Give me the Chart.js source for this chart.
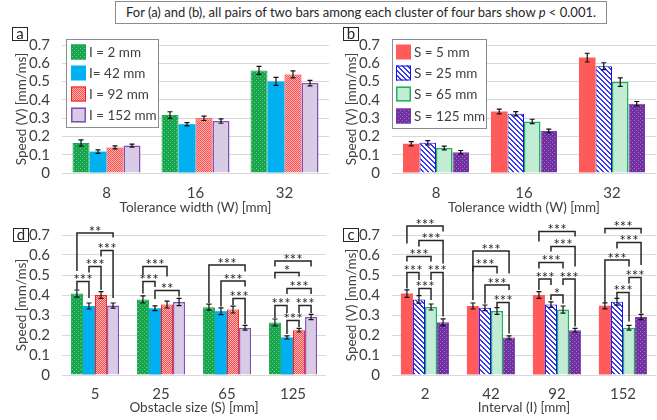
<!DOCTYPE html>
<html><head><meta charset="utf-8">
<script src="https://cdn.jsdelivr.net/npm/chart.js@4.4.0/dist/chart.umd.min.js"></script>
<style>
html,body{margin:0;padding:0;background:#fff}
body{width:657px;height:420px;overflow:hidden;position:relative;font-family:Lato,sans-serif;color:#262626}
canvas{position:absolute}
.note{position:absolute;left:115px;top:1px;width:492px;height:23px;box-sizing:border-box;border:1px solid #8c8c8c;font-size:13px;line-height:21px;text-align:center;white-space:nowrap}
.lab{position:absolute;width:16px;height:14px;box-sizing:border-box;border:1px solid #262626;font-size:15px;line-height:11px;text-align:center}
</style></head><body>
<div class="note">For (a) and (b), all pairs of two bars among each cluster of four bars show <i>p</i> &lt; 0.001.</div>
<canvas id="ca" width="330" height="194" style="left:0;top:24px"></canvas>
<canvas id="cb" width="327" height="194" style="left:330px;top:24px"></canvas>
<canvas id="cd" width="330" height="215" style="left:0;top:205px"></canvas>
<canvas id="cc" width="327" height="215" style="left:330px;top:205px"></canvas>
<div class="lab" style="left:12px;top:27px">a</div>
<div class="lab" style="left:343px;top:27px">b</div>
<div class="lab" style="left:13px;top:228px">d</div>
<div class="lab" style="left:343px;top:228px">c</div>
<script>
// ---------------- categories / tick labels ----------------
const widthCats = ['8', '16', '32'];
const sizeCats = ['5', '25', '65', '125'];
const intervalCats = ['2', '42', '92', '152'];
const yTickLabels = ['0', '0.1', '0.2', '0.3', '0.4', '0.5', '0.6', '0.7'];

// ---------------- panel (a): series by interval I ----------------
const aLabels = ['I = 2 mm', 'I= 42 mm', 'I = 92 mm', 'I = 152 mm'];
const aI2 = [0.164, 0.317, 0.561];   const aI2Err = [0.017, 0.018, 0.022];
const aI42 = [0.117, 0.267, 0.501];  const aI42Err = [0.010, 0.009, 0.022];
const aI92 = [0.140, 0.299, 0.539];  const aI92Err = [0.008, 0.012, 0.019];
const aI152 = [0.150, 0.284, 0.492]; const aI152Err = [0.008, 0.012, 0.015];

// ---------------- panel (b): series by obstacle size S ----------------
const bLabels = ['S = 5 mm', 'S = 25 mm', 'S = 65 mm', 'S = 125 mm'];
const bS5 = [0.160, 0.336, 0.631];   const bS5Err = [0.012, 0.013, 0.024];
const bS25 = [0.165, 0.324, 0.584];  const bS25Err = [0.012, 0.012, 0.019];
const bS65 = [0.137, 0.282, 0.497];  const bS65Err = [0.010, 0.012, 0.023];
const bS125 = [0.114, 0.230, 0.379]; const bS125Err = [0.009, 0.010, 0.012];

// ---------------- panel (d): groups by S, series by I ----------------
const dI2 = [0.407, 0.378, 0.339, 0.263];   const dI2Err = [0.018, 0.018, 0.015, 0.017];
const dI42 = [0.345, 0.334, 0.319, 0.188];  const dI42Err = [0.015, 0.012, 0.017, 0.008];
const dI92 = [0.400, 0.352, 0.327, 0.224];  const dI92Err = [0.017, 0.017, 0.017, 0.009];
const dI152 = [0.347, 0.365, 0.236, 0.290]; const dI152Err = [0.013, 0.018, 0.012, 0.013];

// ---------------- panel (c): groups by I, series by S ----------------
const cS5 = [0.407, 0.345, 0.400, 0.346];   const cS5Err = [0.019, 0.015, 0.017, 0.015];
const cS25 = [0.378, 0.336, 0.352, 0.366];  const cS25Err = [0.019, 0.014, 0.014, 0.017];
const cS65 = [0.340, 0.320, 0.327, 0.236];  const cS65Err = [0.015, 0.017, 0.018, 0.012];
const cS125 = [0.264, 0.188, 0.224, 0.290]; const cS125Err = [0.017, 0.008, 0.009, 0.013];

// significance brackets: [group, barA, barB, bracket level, legA end, legB end, label] (values in mm/ms)
const dBrackets = [
  [0, 0, 1, 0.467, 0.428, 0.385, '***'],
  [0, 1, 2, 0.542, 0.512, 0.425, '***'],
  [0, 2, 3, 0.622, 0.592, 0.385, '***'],
  [0, 0, 3, 0.710, 0.520, 0.687, '**'],
  [1, 0, 1, 0.467, 0.408, 0.440, '***'],
  [1, 0, 2, 0.542, 0.500, 0.492, '***'],
  [1, 1, 3, 0.422, 0.380, 0.392, '**'],
  [2, 0, 3, 0.550, 0.360, 0.517, '***'],
  [2, 1, 3, 0.470, 0.342, 0.442, '***'],
  [2, 2, 3, 0.383, 0.350, 0.255, '***'],
  [3, 0, 3, 0.570, 0.542, 0.542, '***'],
  [3, 0, 2, 0.512, 0.483, 0.492, '*'],
  [3, 1, 3, 0.433, 0.405, 0.405, '***'],
  [3, 0, 1, 0.347, 0.285, 0.310, '***'],
  [3, 2, 3, 0.347, 0.310, 0.310, '***'],
  [3, 1, 2, 0.272, 0.205, 0.240, '***']
];
const cBrackets = [
  [0, 0, 3, 0.745, 0.658, 0.717, '***'],
  [0, 1, 3, 0.672, 0.642, 0.558, '***'],
  [0, 0, 2, 0.592, 0.567, 0.567, '***'],
  [0, 0, 1, 0.512, 0.433, 0.475, '***'],
  [0, 2, 3, 0.512, 0.475, 0.292, '***'],
  [0, 1, 2, 0.433, 0.400, 0.375, '***'],
  [1, 0, 3, 0.620, 0.375, 0.508, '***'],
  [1, 0, 2, 0.542, 0.517, 0.508, '***'],
  [1, 1, 3, 0.450, 0.358, 0.425, '***'],
  [1, 2, 3, 0.362, 0.337, 0.208, '***'],
  [2, 0, 3, 0.717, 0.667, 0.692, '***'],
  [2, 1, 3, 0.642, 0.617, 0.542, '***'],
  [2, 0, 2, 0.562, 0.533, 0.533, '***'],
  [2, 0, 1, 0.480, 0.425, 0.450, '***'],
  [2, 2, 3, 0.480, 0.450, 0.242, '***'],
  [2, 1, 2, 0.400, 0.375, 0.358, '*'],
  [3, 0, 3, 0.733, 0.708, 0.708, '***'],
  [3, 1, 3, 0.662, 0.633, 0.550, '***'],
  [3, 0, 2, 0.575, 0.362, 0.542, '***'],
  [3, 2, 3, 0.487, 0.458, 0.308, '***'],
  [3, 1, 2, 0.412, 0.383, 0.267, '***']
];

// ---------------- styles ----------------
const TXT = '#404040';
const TICKFONT = { family: 'Lato', size: 15 };
const TITLEFONT = { family: 'Lato', size: 13.5 };
function pattern(w, h, draw) {
  const c = document.createElement('canvas'); c.width = w; c.height = h;
  const g = c.getContext('2d'); draw(g); return g.createPattern(c, 'repeat');
}
const greenDots = pattern(4, 4, g => { g.fillStyle = '#17a44c'; g.fillRect(0,0,4,4); g.fillStyle = '#62d088'; g.fillRect(0,0,1,1); g.fillRect(2,2,1,1); });
const redCheck = pattern(2, 2, g => { g.fillStyle = '#ff4a4a'; g.fillRect(0,0,2,2); g.fillStyle = '#ffb8b8'; g.fillRect(1,0,1,1); g.fillRect(0,1,1,1); });
const blueStripes = pattern(5, 5, g => { g.fillStyle = '#ffffff'; g.fillRect(0,0,5,5); g.fillStyle = '#3a3af2';
  for (let x = 0; x < 5; x++) for (let y = 0; y < 5; y++) { if (((x - y) % 5 + 5) % 5 < 2) g.fillRect(x, y, 1, 1); } });
const purpleDots = pattern(4, 4, g => { g.fillStyle = '#7030a0'; g.fillRect(0,0,4,4); g.fillStyle = '#a275cf'; g.fillRect(0,0,1,1); g.fillRect(2,2,1,1); });

const styleI = [
  { fill: greenDots, border: '#1aa64f', bw: 1 },
  { fill: '#00b0f0', border: '#00b0f0', bw: 0 },
  { fill: redCheck, border: '#ff1a1a', bw: 1 },
  { fill: '#d9cbe6', border: '#8050b5', bw: 1.5 }
];
const styleS = [
  { fill: '#ff5b5b', border: '#ff5b5b', bw: 0 },
  { fill: blueStripes, border: '#1010f0', bw: 1 },
  { fill: '#c3ecd4', border: '#1eb35a', bw: 1.5 },
  { fill: purpleDots, border: '#7a3aaa', bw: 1 }
];

// ---------------- plugins ----------------
const errPlugin = {
  id: 'errbars',
  afterDatasetsDraw(chart) {
    const ctx = chart.ctx, ys = chart.scales.y;
    ctx.save(); ctx.strokeStyle = '#111'; ctx.lineWidth = 1.2;
    chart.data.datasets.forEach((ds, i) => {
      chart.getDatasetMeta(i).data.forEach((bar, j) => {
        const v = ds.data[j], e = ds.errors[j];
        const x = bar.x, y1 = ys.getPixelForValue(v + e), y2 = ys.getPixelForValue(v - e);
        ctx.beginPath();
        ctx.moveTo(x, y1); ctx.lineTo(x, y2);
        ctx.moveTo(x - 2.5, y1); ctx.lineTo(x + 2.5, y1);
        ctx.moveTo(x - 2.5, y2); ctx.lineTo(x + 2.5, y2);
        ctx.stroke();
      });
    });
    ctx.restore();
  }
};
function bracketPlugin(list) {
  return { id: 'brackets', afterDraw(chart) {
    const ctx = chart.ctx, ys = chart.scales.y;
    ctx.save();
    ctx.strokeStyle = '#262626'; ctx.fillStyle = '#262626'; ctx.lineWidth = 1.5;
    ctx.font = '15px Lato'; ctx.textAlign = 'center'; ctx.textBaseline = 'alphabetic';
    list.forEach(([g, a, b, top, la, lb, txt]) => {
      const xa = chart.getDatasetMeta(a).data[g].x, xb = chart.getDatasetMeta(b).data[g].x;
      const yt = ys.getPixelForValue(top);
      ctx.beginPath();
      ctx.moveTo(xa, ys.getPixelForValue(la)); ctx.lineTo(xa, yt); ctx.lineTo(xb, yt); ctx.lineTo(xb, ys.getPixelForValue(lb));
      ctx.stroke();
      ctx.fillText(txt, (xa + xb) / 2, yt + 3.5);
    });
    ctx.restore();
  }};
}
function legendPlugin(box) {
  return { id: 'boxlegend', afterDraw(chart) {
    const ctx = chart.ctx;
    ctx.save();
    ctx.fillStyle = '#fff'; ctx.fillRect(box.x, box.y, box.w, box.h);
    ctx.strokeStyle = '#8c8c8c'; ctx.lineWidth = 1; ctx.strokeRect(box.x + 0.5, box.y + 0.5, box.w, box.h);
    ctx.font = '13.5px Lato'; ctx.textBaseline = 'middle'; ctx.textAlign = 'left';
    chart.data.datasets.forEach((ds, i) => {
      const cy = box.rows[i];
      ctx.fillStyle = ds.backgroundColor; ctx.fillRect(box.sx, cy - 7.5, 15, 15);
      if (ds.borderWidth) { ctx.strokeStyle = ds.borderColor; ctx.lineWidth = ds.borderWidth; ctx.strokeRect(box.sx + ds.borderWidth/2, cy - 7.5 + ds.borderWidth/2, 15 - ds.borderWidth, 15 - ds.borderWidth); }
      ctx.fillStyle = TXT; ctx.fillText(ds.label, box.tx, cy + 1);
    });
    ctx.restore();
  }};
}

function makeChart(id, cats, series, cfg) {
  return new Chart(document.getElementById(id), {
    type: 'bar',
    data: {
      labels: cats,
      datasets: series.map(s => ({
        label: s.label, data: s.data, errors: s.err,
        backgroundColor: s.style.fill, borderColor: s.style.border, borderWidth: s.style.bw,
        categoryPercentage: cfg.catPct, barPercentage: 1
      }))
    },
    options: {
      responsive: false, animation: false, devicePixelRatio: 1,
      layout: { padding: { left: 0, top: cfg.top, right: cfg.right, bottom: 0 } },
      plugins: { legend: { display: false }, tooltip: { enabled: false } },
      scales: {
        x: {
          grid: { display: false, drawTicks: false }, border: { display: false },
          ticks: { padding: cfg.xTickPad, color: TXT, font: TICKFONT },
          title: { display: true, text: cfg.xTitle, color: TXT, font: TITLEFONT, padding: { top: 0, bottom: cfg.xTitlePad } },
          afterFit: s => { s.height = cfg.xH; }
        },
        y: {
          min: 0, max: 0.7,
          ticks: { stepSize: 0.1, autoSkip: false, padding: 12, color: TXT, font: TICKFONT, callback: v => yTickLabels[Math.round(v * 10)] },
          grid: { color: '#d9d9d9', drawTicks: false }, border: { display: false },
          title: { display: true, text: cfg.yTitle, color: TXT, font: TITLEFONT, padding: { top: 14, bottom: 0 } },
          afterFit: s => { s.width = 62; }
        }
      }
    },
    plugins: [errPlugin].concat(cfg.plugins)
  });
}

makeChart('ca', widthCats, [
  { label: aLabels[0], data: aI2, err: aI2Err, style: styleI[0] },
  { label: aLabels[1], data: aI42, err: aI42Err, style: styleI[1] },
  { label: aLabels[2], data: aI92, err: aI92Err, style: styleI[2] },
  { label: aLabels[3], data: aI152, err: aI152Err, style: styleI[3] }
], { catPct: 0.764, top: 9, right: 1, xH: 45, xTickPad: 11, xTitlePad: 2, xTitle: 'Tolerance width (W) [mm]', yTitle: 'Speed (V) [mm/ms]',
     plugins: [legendPlugin({ x: 66, y: 15, w: 92, h: 88, sx: 71, tx: 89, rows: [28, 49, 70, 91] })] });

makeChart('cb', widthCats, [
  { label: bLabels[0], data: bS5, err: bS5Err, style: styleS[0] },
  { label: bLabels[1], data: bS25, err: bS25Err, style: styleS[1] },
  { label: bLabels[2], data: bS65, err: bS65Err, style: styleS[2] },
  { label: bLabels[3], data: bS125, err: bS125Err, style: styleS[3] }
], { catPct: 0.75, top: 9, right: 1, xH: 45, xTickPad: 11, xTitlePad: 2, xTitle: 'Tolerance width (W) [mm]', yTitle: 'Speed (V) [mm/ms]',
     plugins: [legendPlugin({ x: 62, y: 15, w: 94, h: 89, sx: 66, tx: 84, rows: [28, 49, 70, 92] })] });

makeChart('cd', sizeCats, [
  { label: aLabels[0], data: dI2, err: dI2Err, style: styleI[0] },
  { label: aLabels[1], data: dI42, err: dI42Err, style: styleI[1] },
  { label: aLabels[2], data: dI92, err: dI92Err, style: styleI[2] },
  { label: aLabels[3], data: dI152, err: dI152Err, style: styleI[3] }
], { catPct: 0.73, top: 30, right: 4, xH: 45, xTickPad: 10, xTitlePad: 4, xTitle: 'Obstacle size (S) [mm]', yTitle: 'Speed [mm/ms]',
     plugins: [bracketPlugin(dBrackets)] });

makeChart('cc', intervalCats, [
  { label: bLabels[0], data: cS5, err: cS5Err, style: styleS[0] },
  { label: bLabels[1], data: cS25, err: cS25Err, style: styleS[1] },
  { label: bLabels[2], data: cS65, err: cS65Err, style: styleS[2] },
  { label: bLabels[3], data: cS125, err: cS125Err, style: styleS[3] }
], { catPct: 0.73, top: 30, right: 1, xH: 45, xTickPad: 10, xTitlePad: 4, xTitle: 'Interval (I) [mm]', yTitle: 'Speed (V) [mm/ms]',
     plugins: [bracketPlugin(cBrackets)] });
</script>
</body></html>
